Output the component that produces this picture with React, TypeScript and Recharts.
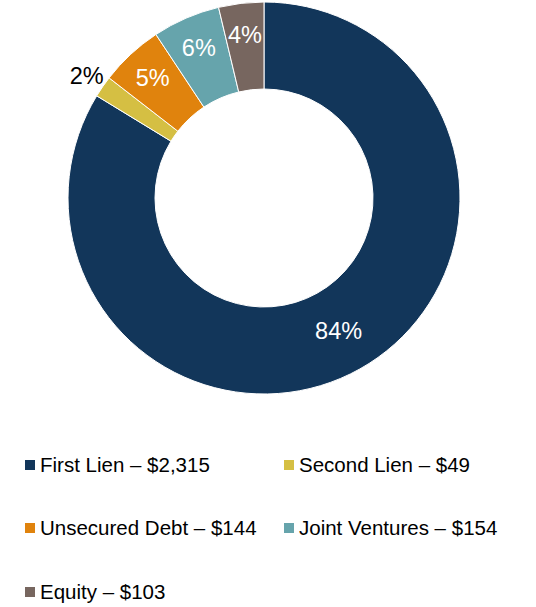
import { PieChart, Pie, Cell, Legend } from 'recharts'

const categories = ['First Lien', 'Second Lien', 'Unsecured Debt', 'Joint Ventures', 'Equity']
const values = [2315, 49, 144, 154, 103]
const colors = ['#12365A', '#D5BF43', '#E0830D', '#66A4AC', '#77665F']
// slices whose label sits outside the ring
const outsideLabels = ['Second Lien']

const chartData = categories.map((name, i) => ({ name, value: values[i], color: colors[i] }))

const FONT = '"Liberation Sans", Arial, sans-serif'
const RADIAN = Math.PI / 180

const renderLabel = ({ cx, cy, midAngle, innerRadius, outerRadius, percent, name }: any) => {
  const outside = outsideLabels.includes(name)
  let r = (innerRadius + outerRadius) / 2
  if (outside) r = outerRadius + 19.5
  else if (percent < 0.1) r = innerRadius + (outerRadius - innerRadius) * 0.63
  const x = cx + r * Math.cos(-midAngle * RADIAN)
  const y = cy + r * Math.sin(-midAngle * RADIAN)
  return (
    <text
      x={x}
      y={y}
      fill={outside ? '#000' : '#fff'}
      textAnchor="middle"
      dominantBaseline="central"
      fontSize={23.5}
      fontFamily={FONT}
    >
      {`${Math.round(percent * 100)}%`}
    </text>
  )
}

const CustomLegend = () => (
  <div
    style={{
      display: 'grid',
      gridTemplateColumns: '259px 252px',
      gridAutoRows: '63.5px',
      paddingLeft: 25,
      fontFamily: FONT,
      fontSize: 20.5,
      color: '#000',
    }}
  >
    {chartData.map((entry, index) => (
      <div key={index} style={{ display: 'flex', alignItems: 'center', gap: 5 }}>
        <div style={{ width: 10, height: 10, backgroundColor: entry.color, flexShrink: 0 }} />
        <span style={{ whiteSpace: 'nowrap' }}>
          {entry.name} – ${entry.value.toLocaleString('en-US')}
        </span>
      </div>
    ))}
  </div>
)

export default function App() {
  return (
    <div style={{ position: 'absolute', left: 0, top: 0, width: 536, height: 607, background: '#fff' }}>
      <PieChart width={536} height={607} margin={{ top: 0, right: 0, bottom: 0, left: 0 }}>
        <Pie
          data={chartData}
          dataKey="value"
          nameKey="name"
          cx={264}
          cy={198}
          innerRadius={109}
          outerRadius={196}
          startAngle={90}
          endAngle={-270}
          stroke="#fff"
          strokeWidth={1}
          labelLine={false}
          label={renderLabel}
          isAnimationActive={false}
        >
          {chartData.map((entry, index) => (
            <Cell key={`cell-${index}`} fill={entry.color} />
          ))}
        </Pie>
        <Legend
          content={<CustomLegend />}
          wrapperStyle={{ top: 433, left: 0, width: 536, bottom: 'auto' }}
        />
      </PieChart>
    </div>
  )
}
